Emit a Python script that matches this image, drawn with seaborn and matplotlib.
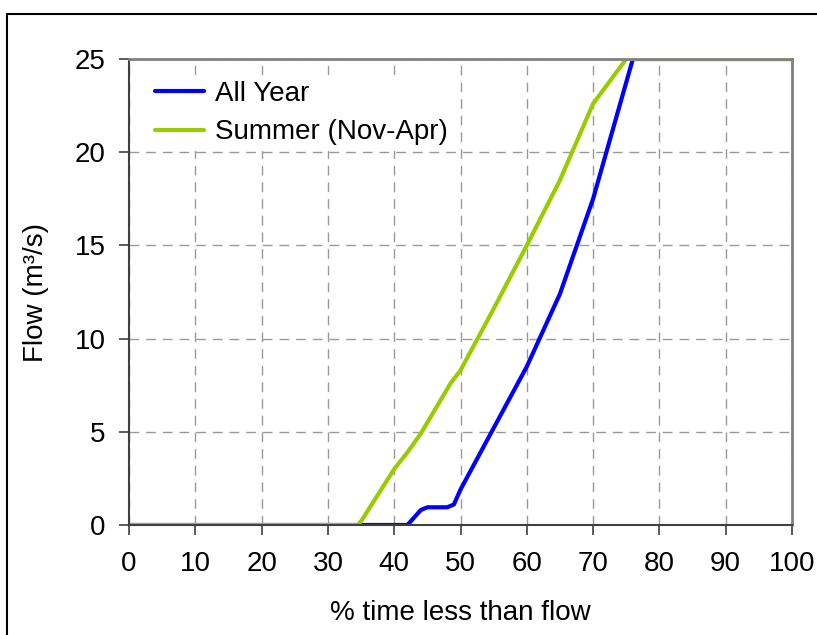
import pandas as pd
import seaborn as sb
import matplotlib.pyplot as plt
from matplotlib.patches import Rectangle

# Данные: кривые обеспеченности расхода

all_year_x = [0, 42, 43, 44, 45, 48, 49, 50, 55, 60, 65, 70, 76, 100]
all_year_y = [0, 0, 0.4, 0.8, 0.95, 0.95, 1.1, 1.9, 5.2, 8.5, 12.4, 17.5, 25, 25]

summer_x = [0, 34.5, 35, 40, 42, 44, 48.5, 50, 55, 60, 65, 70, 75, 100]
summer_y = [0, 0, 0.2, 3.0, 3.9, 4.9, 7.6, 8.3, 11.6, 15.0, 18.5, 22.6, 25, 25]

series_names = ["All Year", "Summer (Nov-Apr)"]
colors = ["#0000FF", "#99CC00"]

df = pd.concat([
    pd.DataFrame({"x": all_year_x, "y": all_year_y, "series": series_names[0]}),
    pd.DataFrame({"x": summer_x, "y": summer_y, "series": series_names[1]}),
])

# Оформление

sb.set_style("white")
plt.rcParams['font.family'] = ['Liberation Sans', 'DejaVu Sans']
plt.rcParams['text.color'] = 'black'
plt.rcParams['axes.labelcolor'] = 'black'
plt.rcParams['xtick.color'] = 'black'
plt.rcParams['ytick.color'] = 'black'

fs = 20

fig = plt.figure(figsize=(8.17, 6.35), dpi=100)
ax = fig.add_axes([129/817, 1-525/635, (792-129)/817, (525-59)/635])

# рамка вокруг всей картинки
fig.patches.append(Rectangle((7/817, -0.1), 1.2, 1.1-14/635, transform=fig.transFigure,
                             fill=False, edgecolor="black", linewidth=1.5))

sb.lineplot(data=df, x="x", y="y", hue="series", palette=colors, linewidth=3,
            ax=ax, estimator=None, sort=False)

ax.set_xlim(0, 100)
ax.set_ylim(0, 25)
ax.set_xticks(range(0, 101, 10))
ax.set_yticks(range(0, 26, 5))
ax.grid(True, color="#999999", linestyle=(0, (7, 5)), linewidth=1)
ax.set_axisbelow(True)

for s in ["left", "bottom"]:
    ax.spines[s].set_color("#404040")
    ax.spines[s].set_linewidth(1.5)
for s in ["top", "right"]:
    ax.spines[s].set_color("#808080")
    ax.spines[s].set_linewidth(2)

ax.tick_params(axis="both", labelsize=fs, direction="out", length=7, width=1.2,
               color="#404040", bottom=True, left=True)
ax.tick_params(axis="x", pad=12)
ax.tick_params(axis="y", pad=10)
ax.set_xlabel("% time less than flow", fontsize=fs, labelpad=16)
ax.set_ylabel("Flow (m³/s)", fontsize=fs, labelpad=18)

leg = ax.legend(loc="upper left", bbox_to_anchor=(0.01, 0.995), fontsize=fs, frameon=True,
                handlelength=1.75, handletextpad=0.4, labelspacing=0.45, borderpad=0.2)
leg.get_frame().set_edgecolor("none")
leg.get_frame().set_facecolor("white")
leg.get_frame().set_alpha(1)

fig.savefig("out.png", dpi=100)
